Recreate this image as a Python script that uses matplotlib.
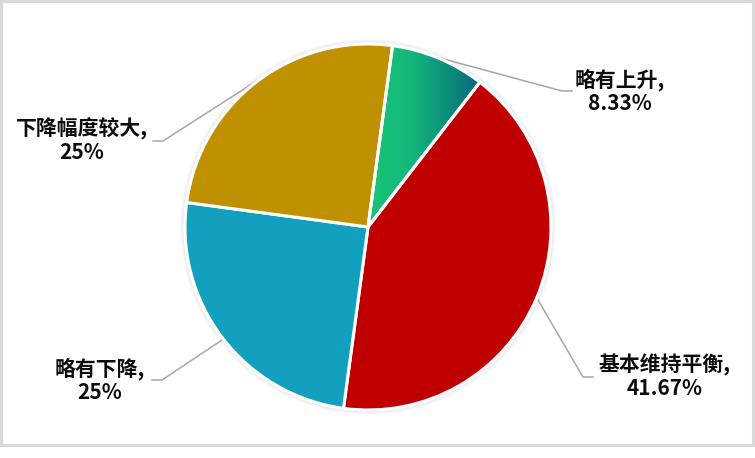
import numpy as np
import matplotlib.pyplot as plt
from matplotlib.colors import LinearSegmentedColormap
from matplotlib.patches import Rectangle, Circle

plt.rcParams['font.family'] = ['Noto Sans CJK SC', 'DejaVu Sans']

# data
categories = ['略有上升', '基本维持平衡', '略有下降', '下降幅度较大']
shares = [8.33, 41.67, 25, 25]
share_labels = ['8.33%', '41.67%', '25%', '25%']
colors = ['#18C478', '#C00000', '#13A0BE', '#BF9000']

W, H = 755, 458
fig = plt.figure(figsize=(W / 100, H / 100), dpi=100)
ax = fig.add_axes([0, 0, 1, 1])


def fy(y):
    # image rows -> axis y
    return H - y


cx, cy, r = 368, fy(227), 183

wedges, _ = ax.pie(shares, colors=colors, startangle=82.3, counterclock=False,
                   center=(cx, cy), radius=r, frame=True,
                   wedgeprops=dict(edgecolor='white', linewidth=2.2))
for w in wedges:
    w.set_zorder(3)
ax.set_xlim(0, W)
ax.set_ylim(0, H)
ax.set_aspect('equal')
ax.axis('off')

# chart border
ax.add_patch(Rectangle((1, fy(445)), 752, 444, fill=False, ec='#D9D9D9', lw=2.2))

# soft shadow around the pie
for k in range(5):
    ax.add_patch(Circle((cx, cy), r + 1 + k, color='#8C8CA0', alpha=0.04, lw=0, zorder=1))

# green gradient on first slice
cmap = LinearSegmentedColormap.from_list('g', ['#18C478', '#14B87A', '#0C8E7C', '#075E78'])
grad = np.linspace(0, 1, 256).reshape(1, -1)
im = ax.imshow(grad, cmap=cmap, aspect='auto', extent=(370, 487, fy(228), fy(43)),
               zorder=2.5)
im.set_clip_path(wedges[0])
wedges[0].set_facecolor('none')
wedges[0].set_zorder(4)

# leader lines and labels
leaders = [
    [(440, 58), (562, 91), (572, 91)],
    [(538, 300), (583, 377), (593, 377)],
    [(222, 340), (162, 380), (152, 380)],
    [(258, 80), (163, 141), (153, 141)],
]
label_pos = [(620, 91), (665, 376), (100, 380), (82, 140)]

for pts, (tx, ty), cat, lab in zip(leaders, label_pos, categories, share_labels):
    xs = [p[0] for p in pts]
    ys = [fy(p[1]) for p in pts]
    ax.plot(xs, ys, color='#A6A6A6', lw=1.1, zorder=2)
    ax.text(tx, fy(ty), cat + ',\n' + lab, ha='center', va='center',
            fontsize=15, fontweight='bold', color='#0D0D0D', linespacing=1.12)

fig.savefig('out.png', dpi=100, facecolor='white')
